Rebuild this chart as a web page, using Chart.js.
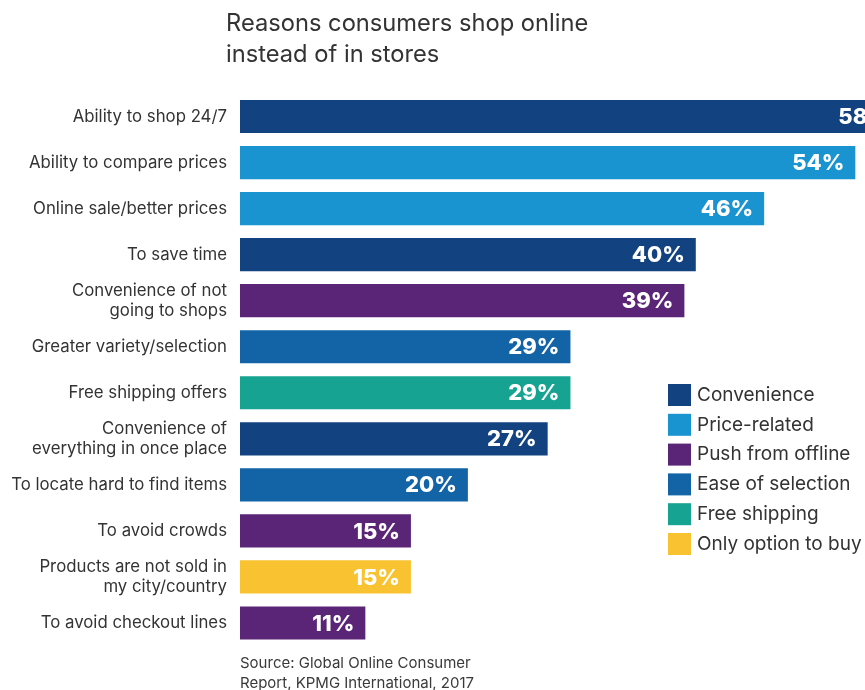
<!DOCTYPE html>
<html>
<head>
<meta charset="utf-8">
<script src="https://cdn.jsdelivr.net/npm/chart.js@4.4.0/dist/chart.umd.min.js"></script>
<style>
  html,body{margin:0;padding:0;background:#fff;}
  #wrap{position:relative;width:865px;height:690px;overflow:hidden;}
  canvas{position:absolute;left:0;top:0;}
  .title{position:absolute;left:226px;top:7px;font-family:Inter,"Liberation Sans",Arial,sans-serif;font-size:23.7px;line-height:31px;color:#333333;}
  .source{position:absolute;left:240px;top:653px;font-family:Inter,"Liberation Sans",Arial,sans-serif;font-size:15px;line-height:20px;color:#3a3a3a;}
</style>
</head>
<body>
<div id="wrap">
  <canvas id="c" width="865" height="690"></canvas>
  <div class="title">Reasons consumers shop online<br>instead of in stores</div>
  <div class="source">Source: Global Online Consumer<br>Report, KPMG International, 2017</div>
</div>
<script>
const categories = [
  "Ability to shop 24/7",
  "Ability to compare prices",
  "Online sale/better prices",
  "To save time",
  ["Convenience of not", "going to shops"],
  "Greater variety/selection",
  "Free shipping offers",
  ["Convenience of", "everything in once place"],
  "To locate hard to find items",
  "To avoid crowds",
  ["Products are not sold in", "my city/country"],
  "To avoid checkout lines"
];
const values = [58, 54, 46, 40, 39, 29, 29, 27, 20, 15, 15, 11];
const groups = [0, 1, 1, 0, 2, 3, 4, 0, 3, 2, 5, 2];
const groupNames = ["Convenience", "Price-related", "Push from offline", "Ease of selection", "Free shipping", "Only option to buy"];
const groupColors = ["#12427f", "#1994d0", "#5a2477", "#1264a7", "#16a391", "#f8c231"];

const FONT = 'Inter, "Liberation Sans", Arial, sans-serif';

const labelPlugin = {
  id: 'barLabels',
  afterDatasetsDraw(chart) {
    const ctx = chart.ctx;
    const meta = chart.getDatasetMeta(0);
    ctx.save();
    ctx.font = '800 22px ' + FONT;
    ctx.fillStyle = '#ffffff';
    ctx.textAlign = 'right';
    ctx.textBaseline = 'middle';
    meta.data.forEach((bar, i) => {
      ctx.fillText(values[i] + '%', bar.x - 11, bar.y + 1);
    });
    ctx.restore();
  }
};

const legendPlugin = {
  id: 'boxLegend',
  afterDraw(chart) {
    const ctx = chart.ctx;
    ctx.save();
    ctx.font = '19px ' + FONT;
    ctx.textAlign = 'left';
    ctx.textBaseline = 'middle';
    groupNames.forEach((name, i) => {
      const y = 384 + i * 29.8;
      ctx.fillStyle = groupColors[i];
      ctx.fillRect(668, y, 23, 22);
      ctx.fillStyle = '#333333';
      ctx.fillText(name, 697, y + 11);
    });
    ctx.restore();
  }
};

new Chart(document.getElementById('c'), {
  type: 'bar',
  data: {
    labels: categories,
    datasets: [{
      data: values,
      backgroundColor: groups.map(g => groupColors[g]),
      borderWidth: 0,
      barPercentage: 0.72,
      categoryPercentage: 1.0
    }]
  },
  options: {
    indexAxis: 'y',
    responsive: false,
    animation: false,
    layout: { padding: { top: 93.5, bottom: 44, left: 0, right: 0 } },
    plugins: { legend: { display: false }, tooltip: { enabled: false } },
    scales: {
      x: { display: false, min: 0, max: 54.85 },
      y: {
        grid: { display: false, drawTicks: false, tickLength: 0 },
        border: { display: false },
        afterFit(scale) { scale.width = 240; },
        ticks: {
          padding: 13,
          color: '#333333',
          font: { family: FONT, size: 16.8, lineHeight: 1.17 }
        }
      }
    }
  },
  plugins: [labelPlugin, legendPlugin]
});
</script>
</body>
</html>
